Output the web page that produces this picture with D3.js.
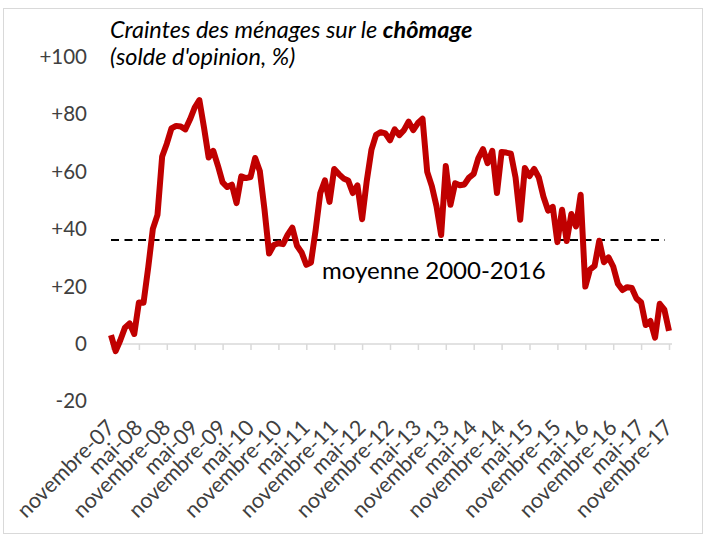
<!DOCTYPE html>
<html>
<head>
<meta charset="utf-8">
<script src="https://cdn.jsdelivr.net/npm/d3@7"></script>
<style>
html,body{margin:0;padding:0;background:#fff;}
svg{display:block;}
</style>
</head>
<body>
<svg id="chart" width="705" height="535"></svg>
<script>
// ---- data ----
const startMonth = "2007-11";
const values = [
  3.1,-2.5,1.3,5.7,7.2,3.5,14.5,14.4,26.6,40.1,
  45,65.3,69.8,75.1,76,75.8,74.8,78.3,82.4,85,
  75.4,65,67.3,62.1,56.3,54.7,55.5,49.1,58.4,57.8,
  58.2,64.8,60.3,47,31.5,34.5,35.1,34.8,38.1,40.5,
  34.2,31.9,27.6,28.4,39.6,52.5,57,49.5,61,59.2,
  57.7,57,52.6,55.3,43.5,56.8,67.6,72.9,73.8,73.4,
  71,74.8,72.8,74.5,77.5,74.5,77,78.5,60,55,
  48,38,62,48.5,56,55.3,55.6,58,59.3,64.8,
  67.9,63,67.3,52.6,66.9,66.7,66.3,58,43.3,61.3,
  58.5,61,58,51.3,46.5,47.8,35.5,46.8,35.9,45.3,
  41,52,20,25.9,27.2,36,28.5,30.2,27,21,
  18.8,19.8,19.5,15.9,14.5,6.6,8,2.2,14,12,4.6
];
const average = 36.2;
const averageLabel = "moyenne 2000-2016";
const yTicks = [-20, 0, 20, 40, 60, 80, 100];
const xTickLabels = [
  "novembre-07","mai-08","novembre-08","mai-09","novembre-09","mai-10",
  "novembre-10","mai-11","novembre-11","mai-12","novembre-12","mai-13",
  "novembre-13","mai-14","novembre-14","mai-15","novembre-15","mai-16",
  "novembre-16","mai-17","novembre-17"
];
const titleLine1 = "Craintes des ménages sur le ";
const titleBold = "chômage";
const titleLine2 = "(solde d'opinion, %)";

// ---- layout ----
const svg = d3.select("#chart");
const font = "Lato, 'Open Sans', sans-serif";

svg.append("rect")
  .attr("x", 3.5).attr("y", 8.5).attr("width", 699).attr("height", 525)
  .attr("fill", "#fff").attr("stroke", "#d9d9d9").attr("stroke-width", 1);

const x = d3.scaleLinear().domain([0, values.length - 1]).range([111, 669]);
const y = d3.scaleLinear().domain([-20, 100]).range([401.4, 57]);

// y axis labels
const yAxis = d3.axisLeft(y).tickValues(yTicks).tickSize(0).tickPadding(0)
  .tickFormat(d => d > 0 ? "+" + d : String(d));
const gy = svg.append("g").attr("transform", "translate(87,0)").call(yAxis);
gy.select(".domain").remove();
gy.selectAll("text").attr("font-family", font).attr("font-size", 20.5).attr("fill", "#404040");

// x axis at zero
const tickIdx = xTickLabels.map((_, i) => i * 6);
const xAxis = d3.axisBottom(x).tickValues(tickIdx).tickSize(6).tickSizeOuter(0)
  .tickFormat(() => "");
const gx = svg.append("g").attr("transform", `translate(0,${y(0)})`).call(xAxis);
gx.select(".domain").attr("stroke", "#d9d9d9").attr("stroke-width", 1.5)
  .attr("d", `M${x(0) - 1},0H${x(values.length - 1) + 3}`);
gx.selectAll(".tick line").attr("stroke", "#d9d9d9").attr("stroke-width", 1.5);

// x labels rotated at bottom
svg.append("g").selectAll("text").data(xTickLabels).join("text")
  .attr("transform", (d, i) => `translate(${x(i * 6) + 5},${429}) rotate(-45)`)
  .attr("text-anchor", "end")
  .attr("font-family", font).attr("font-size", 21.5).attr("fill", "#404040")
  .text(d => d);

// average dashed line
svg.append("line")
  .attr("x1", x(0)).attr("x2", x(values.length - 1) - 4)
  .attr("y1", y(average)).attr("y2", y(average))
  .attr("stroke", "#000").attr("stroke-width", 2)
  .attr("stroke-dasharray", "8,5.5");

svg.append("text")
  .attr("x", 322).attr("y", 279)
  .attr("font-family", font).attr("font-size", 24).attr("fill", "#000")
  .text(averageLabel);

// series line
const line = d3.line().x((d, i) => x(i)).y(d => y(d));
svg.append("path").datum(values)
  .attr("d", line)
  .attr("fill", "none").attr("stroke", "#c00000")
  .attr("stroke-width", 6).attr("stroke-linejoin", "round").attr("stroke-linecap", "butt");

// title
const t1 = svg.append("text").attr("x", 110).attr("y", 38)
  .attr("font-family", font).attr("font-size", 23.5).attr("font-style", "italic").attr("fill", "#000");
t1.append("tspan").text(titleLine1);
t1.append("tspan").attr("font-weight", "bold").text(titleBold);
svg.append("text").attr("x", 110).attr("y", 65)
  .attr("font-family", font).attr("font-size", 23.5).attr("font-style", "italic").attr("fill", "#000")
  .text(titleLine2);
</script>
</body>
</html>
